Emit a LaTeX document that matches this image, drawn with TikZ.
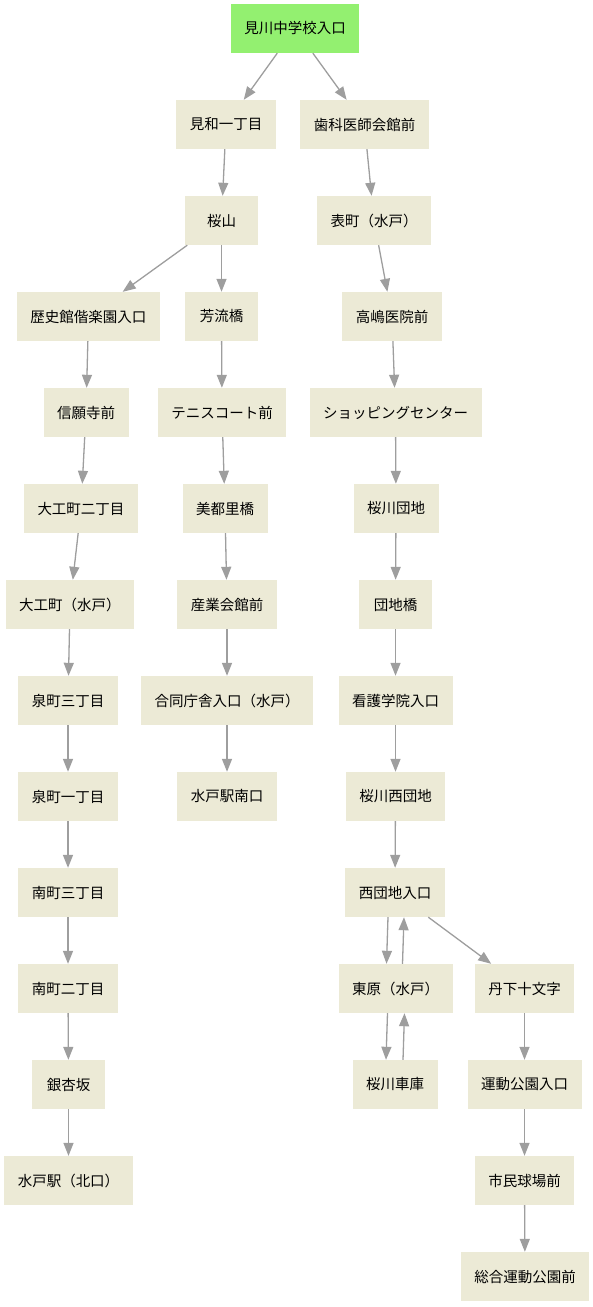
\documentclass[tikz,border=0pt]{standalone}
\usepackage{fontspec}
\newfontfamily\jpfont{Noto Sans CJK JP}
\usepackage{tikz}
\usetikzlibrary{arrows.meta}
\definecolor{stopfill}{RGB}{236,234,214}
\definecolor{startfill}{RGB}{147,240,112}
\definecolor{edgegray}{RGB}{158,158,158}

\begin{document}
\begin{tikzpicture}[x=1pt, y=-1pt,
    box/.style={fill=stopfill, minimum width=73pt, minimum height=49pt, inner xsep=13.5pt, inner ysep=0pt, font={\jpfont\fontsize{14.5pt}{17pt}\selectfont}},
    start/.style={box, fill=startfill},
    arr/.style={-{Triangle[length=13pt,width=10pt]}, draw=edgegray, fill=edgegray, line width=1.3pt}
]
\useasboundingbox (0,0) rectangle (593,1307);

% start
\node[start] (mikawa) at (295,28.5) {見川中学校入口};

% left branch
\node[box] (miwa) at (226,124.5) {見和一丁目};
\node[box] (sakurayama) at (221.5,220.5) {桜山};
\node[box] (rekishi) at (88.5,316.5) {歴史館偕楽園入口};
\node[box] (shingan) at (86,412.5) {信願寺前};
\node[box] (daiku2) at (81,508.5) {大工町二丁目};
\node[box] (daikumito) at (70,604.5) {大工町（水戸）};
\node[box] (izumi3) at (68,700.5) {泉町三丁目};
\node[box] (izumi1) at (68,796.5) {泉町一丁目};
\node[box] (minami3) at (68,892.5) {南町三丁目};
\node[box] (minami2) at (68,988.5) {南町二丁目};
\node[box] (ginnan) at (68.5,1084.5) {銀杏坂};
\node[box] (mitokita) at (68.5,1180.5) {水戸駅（北口）};

% middle branch
\node[box] (horyu) at (221.5,316.5) {芳流橋};
\node[box] (tennis) at (222,412.5) {テニスコート前};
\node[box] (mitori) at (225,508.5) {美都里橋};
\node[box] (sangyo) at (227,604.5) {産業会館前};
\node[box] (godo) at (227,700.5) {合同庁舎入口（水戸）};
\node[box] (mitominami) at (227,796.5) {水戸駅南口};

% right branch
\node[box] (shika) at (364.5,124.5) {歯科医師会館前};
\node[box] (omote) at (374,220.5) {表町（水戸）};
\node[box] (takashima) at (392,316.5) {高嶋医院前};
\node[box] (shopping) at (395.5,412.5) {ショッピングセンター};
\node[box] (sdanchi) at (396,508.5) {桜川団地};
\node[box] (danchibashi) at (395.5,604.5) {団地橋};
\node[box] (kango) at (395.5,700.5) {看護学院入口};
\node[box] (snishi) at (395.5,796.5) {桜川西団地};
\node[box] (nishiiri) at (395,892.5) {西団地入口};
\node[box] (higashihara) at (395.5,988.5) {東原（水戸）};
\node[box] (shako) at (395,1084.5) {桜川車庫};
\node[box] (tange) at (524.5,988.5) {丹下十文字};
\node[box] (undo) at (524.5,1084.5) {運動公園入口};
\node[box] (kyujo) at (524.5,1180.5) {市民球場前};
\node[box] (sogo) at (525,1276.5) {総合運動公園前};

\draw[arr] (mikawa) -- (miwa);
\draw[arr] (mikawa) -- (shika);
\draw[arr] (miwa) -- (sakurayama);
\draw[arr] (sakurayama) -- (rekishi);
\draw[arr] (sakurayama) -- (horyu);
\draw[arr] (rekishi) -- (shingan);
\draw[arr] (shingan) -- (daiku2);
\draw[arr] (daiku2) -- (daikumito);
\draw[arr] (daikumito) -- (izumi3);
\draw[arr] (izumi3) -- (izumi1);
\draw[arr] (izumi1) -- (minami3);
\draw[arr] (minami3) -- (minami2);
\draw[arr] (minami2) -- (ginnan);
\draw[arr] (ginnan) -- (mitokita);
\draw[arr] (horyu) -- (tennis);
\draw[arr] (tennis) -- (mitori);
\draw[arr] (mitori) -- (sangyo);
\draw[arr] (sangyo) -- (godo);
\draw[arr] (godo) -- (mitominami);
\draw[arr] (shika) -- (omote);
\draw[arr] (omote) -- (takashima);
\draw[arr] (takashima) -- (shopping);
\draw[arr] (shopping) -- (sdanchi);
\draw[arr] (sdanchi) -- (danchibashi);
\draw[arr] (danchibashi) -- (kango);
\draw[arr] (kango) -- (snishi);
\draw[arr] (snishi) -- (nishiiri);
\draw[arr] ([xshift=-7pt]nishiiri.south) -- ([xshift=-9pt]higashihara.north);
\draw[arr] ([xshift=7pt]higashihara.north) -- ([xshift=9pt]nishiiri.south);
\draw[arr] ([xshift=-8pt]higashihara.south) -- ([xshift=-9pt]shako.north);
\draw[arr] ([xshift=8pt]shako.north) -- ([xshift=9pt]higashihara.south);
\draw[arr] (nishiiri) -- (tange);
\draw[arr] (tange) -- (undo);
\draw[arr] (undo) -- (kyujo);
\draw[arr] (kyujo) -- (sogo);
\end{tikzpicture}
\end{document}
